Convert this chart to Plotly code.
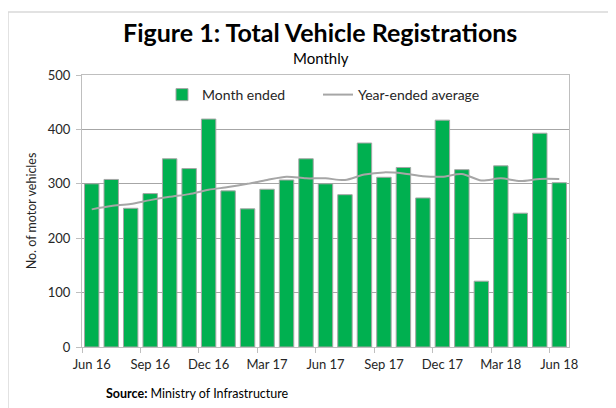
import plotly.graph_objects as go

months = ["Jun 16", "Jul 16", "Aug 16", "Sep 16", "Oct 16", "Nov 16", "Dec 16",
          "Jan 17", "Feb 17", "Mar 17", "Apr 17", "May 17", "Jun 17", "Jul 17",
          "Aug 17", "Sep 17", "Oct 17", "Nov 17", "Dec 17", "Jan 18", "Feb 18",
          "Mar 18", "Apr 18", "May 18", "Jun 18"]
month_ended = [300, 308, 255, 282, 346, 328, 419, 287, 254, 290, 307, 346, 300,
               280, 375, 312, 330, 274, 417, 326, 121, 333, 246, 393, 302]
year_avg = [253, 259, 263, 270, 276, 281, 289, 294, 300, 307, 313, 310, 310,
            307, 317, 321, 319, 314, 313, 318, 306, 310, 305, 309, 309]
tick_labels = ["Jun 16", "Sep 16", "Dec 16", "Mar 17", "Jun 17", "Sep 17",
               "Dec 17", "Mar 18", "Jun 18"]
y_ticks = [0, 100, 200, 300, 400, 500]

x_idx = list(range(len(months)))
FONT = "Lato, Noto Sans, sans-serif"

fig = go.Figure()
fig.add_trace(go.Bar(
    x=x_idx, y=month_ended, name="Month ended",
    marker=dict(color="#00B050", line=dict(color="#A6A6A6", width=1)),
    hovertext=months, legend="legend",
))
fig.add_trace(go.Scatter(
    x=x_idx, y=year_avg, name="Year-ended average", mode="lines",
    line=dict(color="#A6A6A6", width=2, shape="spline", smoothing=0.8),
    hovertext=months, legend="legend2",
))

# page has an 8px body margin, so figure is 608x400 placed at (8, 8)
OFF = 8
W, H = 608, 400
L, R, T, B = 74, 47, 67, 61
pw, ph = W - L - R, H - T - B

def px(x):  # page pixel -> paper x
    return (x - OFF - L) / pw

def py(y):  # page pixel -> paper y
    return (H - B - (y - OFF)) / ph

legend_common = dict(orientation="h", xanchor="left", y=py(95), yanchor="middle",
                     font=dict(size=14, color="#262626"), bgcolor="rgba(0,0,0,0)")

fig.update_layout(
    width=W, height=H,
    margin=dict(l=L, r=R, t=T, b=B),
    paper_bgcolor="white", plot_bgcolor="white",
    bargap=0.26,
    font=dict(family=FONT, size=12, color="#262626"),
    showlegend=True,
    legend=dict(x=px(162), **legend_common),
    legend2=dict(x=px(318), **legend_common),
    xaxis=dict(
        range=[-0.5, len(months) - 0.5],
        tickmode="array",
        tickvals=[months.index(t) for t in tick_labels],
        ticktext=tick_labels,
        ticks="", showgrid=False,
        ticklabelstandoff=5,
        showline=True, linecolor="#BFBFBF", linewidth=1, mirror=True,
        tickfont=dict(size=13, color="#262626"),
        minor=dict(tick0=-0.5, dtick=3, ticks="outside", ticklen=5,
                   tickcolor="#BFBFBF", showgrid=False),
        zeroline=False,
    ),
    yaxis=dict(
        range=[0, 500],
        tickmode="array", tickvals=y_ticks,
        ticks="outside", ticklen=5, tickcolor="#BFBFBF",
        ticklabelstandoff=3,
        showgrid=True, gridcolor="#A6A6A6", gridwidth=1,
        showline=True, linecolor="#BFBFBF", linewidth=1, mirror=True,
        tickfont=dict(size=13, color="#262626"),
        title=dict(text="No. of motor vehicles", font=dict(size=12.5, color="#262626"),
                   standoff=8),
        zeroline=False,
    ),
    annotations=[
        dict(text="<b>Figure 1: Total Vehicle Registrations</b>", xref="paper", yref="paper",
             x=px(320), y=py(32), xanchor="center", yanchor="middle", showarrow=False,
             font=dict(size=25, color="#000000", family=FONT)),
        dict(text="Monthly", xref="paper", yref="paper",
             x=px(321), y=py(58), xanchor="center", yanchor="middle", showarrow=False,
             font=dict(size=15, color="#000000", family=FONT)),
        dict(text="<b>Source:</b> Ministry of Infrastructure", xref="paper", yref="paper",
             x=px(104), y=py(393), xanchor="left", yanchor="middle", showarrow=False,
             font=dict(size=12.5, color="#000000", family=FONT)),
    ],
    shapes=[
        dict(type="rect", xref="paper", yref="paper",
             x0=px(8), x1=px(640), y0=py(440), y1=py(12),
             line=dict(color="#D9D9D9", width=1.5), fillcolor="rgba(0,0,0,0)", layer="below"),
    ],
)

fig.write_html("out.html")
